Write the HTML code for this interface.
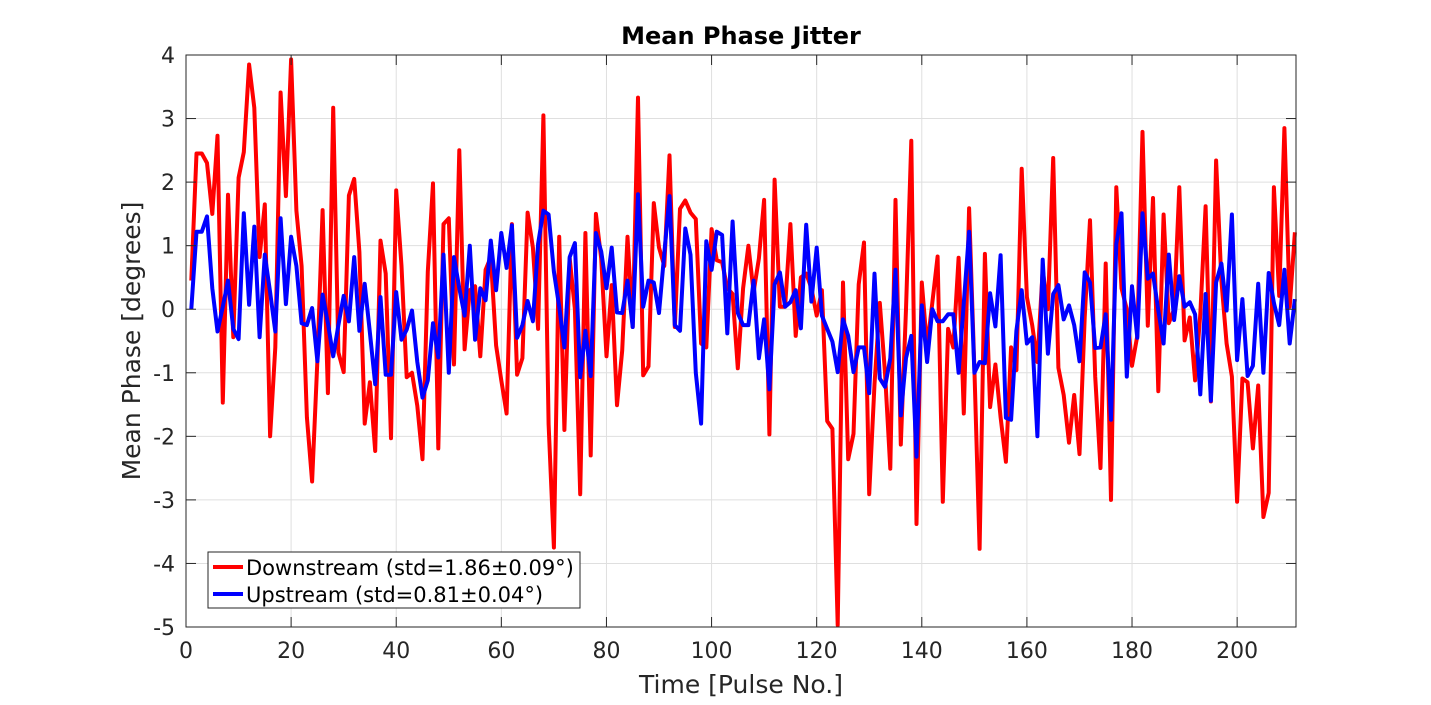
<!DOCTYPE html>
<html><head><meta charset="utf-8"><style>
html,body{margin:0;padding:0;background:#fff;}
svg{display:block;font-family:"DejaVu Sans","Liberation Sans",sans-serif;}
</style></head><body>
<svg id="chart" width="1431" height="705" viewBox="0 0 1431 705" xmlns="http://www.w3.org/2000/svg">
<rect width="1431" height="705" fill="#fff"/>
<g id="grid"></g>
<g id="series"></g>
<g id="axes"></g>
<text x="741" y="44" text-anchor="middle" font-size="24" font-weight="bold" fill="#000">Mean Phase Jitter</text>
<text x="741" y="693" text-anchor="middle" font-size="25" fill="#262626">Time [Pulse No.]</text>
<text transform="translate(140,341) rotate(-90)" text-anchor="middle" font-size="25" fill="#262626">Mean Phase [degrees]</text>
<g>
<rect x="208" y="552" width="372" height="56" fill="#fff" stroke="#262626" stroke-width="1"/>
<g>
<line x1="213" y1="567" x2="243" y2="567" stroke="#ff0000" stroke-width="4"/>
<text x="246" y="575" font-size="21" fill="#000">Downstream (std=1.86±0.09°)</text></g>
<g>
<line x1="213" y1="594" x2="243" y2="594" stroke="#0000ff" stroke-width="4"/>
<text x="246" y="602" font-size="21" fill="#000">Upstream (std=0.81±0.04°)</text></g>
</g>
</svg>
<script>
const xTicks = [0,20,40,60,80,100,120,140,160,180,200];
const yTicks = [4,3,2,1,0,-1,-2,-3,-4,-5];
const downstream = [0.45,2.45,2.45,2.3,1.5,2.73,-1.47,1.8,-0.44,2.07,
2.47,3.85,3.17,0.82,1.65,-2.0,-0.6,3.41,1.78,3.93,
1.55,0.68,-1.7,-2.71,-0.8,1.56,-1.32,3.17,-0.68,-0.99,
1.79,2.05,0.9,-1.8,-1.15,-2.23,1.08,0.56,-2.03,1.87,
0.68,-1.07,-1.0,-1.52,-2.36,0.59,1.98,-2.19,1.34,1.43,
-0.87,2.5,-0.63,0.3,0.36,-0.74,0.62,0.82,-0.57,-1.12,
-1.64,1.34,-1.03,-0.77,1.52,0.97,-0.31,3.05,-1.81,-3.75,
1.14,-1.9,0.8,0.0,-2.91,1.2,-2.3,1.5,0.8,-0.74,
0.38,-1.51,-0.65,1.14,-0.28,3.33,-1.04,-0.9,1.67,0.97,
0.68,2.42,-0.28,1.58,1.71,1.52,1.42,-0.54,-0.6,1.26,
0.77,0.74,0.33,0.24,-0.93,0.33,1.0,0.27,0.8,1.72,
-1.97,2.04,0.04,0.04,1.34,-0.42,0.5,0.56,0.33,-0.1,
0.3,-1.76,-1.88,-4.97,0.42,-2.36,-1.96,0.39,1.05,-2.91,
-1.18,0.1,-1.0,-2.51,1.72,-2.13,0.0,2.65,-3.38,0.42,
-0.6,0.1,0.83,-3.03,-0.31,-0.6,0.81,-1.64,1.59,-0.94,
-3.77,0.87,-1.54,-0.87,-1.7,-2.4,-0.6,-0.96,2.21,0.19,
-0.25,-0.83,0.62,0.0,2.38,-0.92,-1.35,-2.1,-1.35,-2.28,
-0.13,1.4,-1.06,-2.5,0.72,-3.0,1.92,0.33,0.0,-0.89,
-0.42,2.79,-0.26,1.75,-1.29,1.49,-0.22,0.0,1.92,-0.49,
-0.13,-1.12,-0.08,1.62,-1.45,2.34,0.45,-0.54,-1.06,-3.03,
-1.09,-1.15,-2.19,-1.2,-3.27,-2.89,1.92,0.21,2.85,0.04,1.21];
const upstream = [0,1.22,1.22,1.46,0.33,-0.35,0.04,0.45,-0.31,-0.47,
1.51,0.07,1.3,-0.44,0.86,0.27,-0.35,1.43,0.08,1.14,
0.68,-0.22,-0.25,0.02,-0.82,0.23,-0.22,-0.74,-0.25,0.21,
-0.19,0.82,-0.34,0.4,-0.37,-1.18,0.19,-1.03,-1.03,0.27,
-0.48,-0.32,-0.02,-0.83,-1.39,-1.12,-0.22,-0.76,0.86,-1.0,
0.82,0.33,-0.1,1.0,-0.48,0.33,0.14,1.08,0.3,1.2,
0.65,1.32,-0.45,-0.25,0.13,-0.19,1.03,1.55,1.49,0.59,
0.04,-0.6,0.82,1.04,-1.07,-0.34,-1.05,1.2,0.91,0.33,
0.97,-0.05,-0.06,0.45,-0.28,1.81,0.04,0.45,0.42,-0.06,
0.88,1.78,-0.25,-0.34,1.27,0.86,-1.0,-1.8,1.07,0.62,
1.22,1.17,-0.38,1.38,-0.06,-0.25,-0.25,0.45,-0.77,-0.16,
-1.26,0.39,0.58,0.04,0.11,0.3,-0.3,1.33,0.12,0.97,
-0.1,-0.31,-0.51,-0.99,-0.16,-0.42,-0.99,-0.6,-0.6,-1.32,
0.56,-1.09,-1.22,-0.77,0.62,-1.67,-0.77,-0.42,-2.32,0.06,
-0.83,0,-0.19,-0.19,-0.08,-0.08,-1.0,0.1,1.22,-1.0,
-0.83,-0.85,0.25,-0.27,0.85,-1.71,-1.74,-0.34,0.3,-0.54,
-0.44,-2.0,0.78,-0.7,0.24,0.38,-0.16,0.06,-0.25,-0.82,
0.58,0.42,-0.61,-0.6,-0.08,-1.74,1.03,1.51,-1.06,0.36,
-0.45,1.51,0.48,0.56,-0.02,-0.54,0.86,-0.17,0.52,0.04,
0.11,-0.08,-1.34,0.24,-1.44,0.42,0.72,-0.02,1.49,-0.8,
0.16,-1.05,-0.89,0.4,-1.0,0.57,0.1,-0.25,0.62,-0.54,0.16];

const L=186,R=1296,T=55,B=627,XMIN=0,XMAX=211.2,YMIN=-5,YMAX=4;
const NS="http://www.w3.org/2000/svg";
function sx(v){return L+(v-XMIN)/(XMAX-XMIN)*(R-L);}
function sy(v){return B-(v-YMIN)/(YMAX-YMIN)*(B-T);}
function mk(tag,attrs,parent){const e=document.createElementNS(NS,tag);for(const k in attrs)e.setAttribute(k,attrs[k]);parent.appendChild(e);return e;}
const grid=document.getElementById('grid'),axes=document.getElementById('axes'),series=document.getElementById('series');
xTicks.forEach(t=>{const x=sx(t);
 const g=mk('line',{x1:x,y1:T,x2:x,y2:B,stroke:'#dfdfdf','stroke-width':1},grid);
 
 
 mk('line',{x1:x,y1:B,x2:x,y2:B-10,stroke:'#262626','stroke-width':1},axes);
 mk('line',{x1:x,y1:T,x2:x,y2:T+10,stroke:'#262626','stroke-width':1},axes);
 const lb=mk('text',{x:x,y:B+31,'text-anchor':'middle','font-size':22,fill:'#262626'},axes);
 lb.textContent=t;
 
 
});
yTicks.forEach(t=>{const y=sy(t);
 const g=mk('line',{x1:L,y1:y,x2:R,y2:y,stroke:'#dfdfdf','stroke-width':1},grid);
 
 
 mk('line',{x1:L,y1:y,x2:L+10,y2:y,stroke:'#262626','stroke-width':1},axes);
 mk('line',{x1:R,y1:y,x2:R-10,y2:y,stroke:'#262626','stroke-width':1},axes);
 const lb=mk('text',{x:L-11,y:y+8,'text-anchor':'end','font-size':22,fill:'#262626'},axes);
 lb.textContent=t;
 
 
});
const box=mk('rect',{x:L,y:T,width:R-L,height:B-T,fill:'none',stroke:'#262626','stroke-width':1},axes);


function line(data,color,name){
 const pts=data.map((v,i)=>sx(i+1).toFixed(1)+','+sy(v).toFixed(1)).join(' ');
 const p=mk('polyline',{points:pts,fill:'none',stroke:color,'stroke-width':4,'stroke-linejoin':'round'},series);
 
 
}
line(downstream,'#ff0000','downstream-line');
line(upstream,'#0000ff','upstream-line');
</script>
</body></html>
